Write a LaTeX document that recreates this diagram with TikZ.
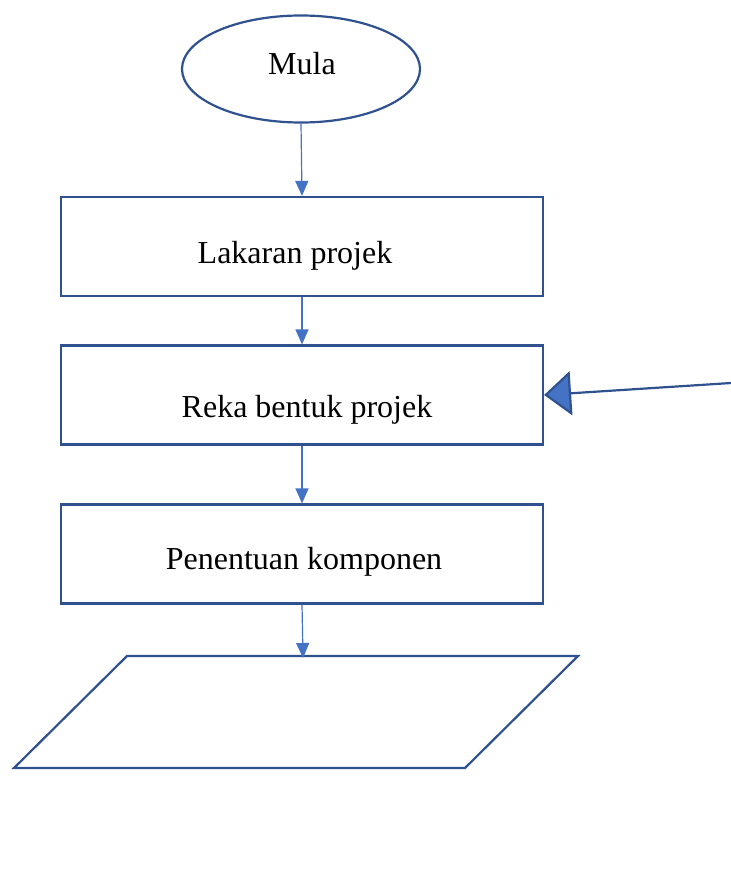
\documentclass[tikz,border=0pt]{standalone}
\usepackage{fontspec}
\setmainfont{Liberation Serif}
\usetikzlibrary{shapes.geometric,arrows.meta}
\definecolor{edgeblue}{HTML}{2F528F}
\definecolor{flowblue}{HTML}{4472C4}
\tikzset{
  stepbox/.style={draw=edgeblue, line width=2.2pt, minimum width=482pt, minimum height=99pt, inner sep=0pt},
  startend/.style={draw=edgeblue, line width=2.2pt, ellipse, minimum width=238pt, minimum height=107pt, inner sep=0pt},
  label/.style={font=\fontsize{32}{38}\selectfont, inner sep=0pt},
  flow/.style={draw=flowblue, line width=1.2pt, -{Triangle[length=15pt,width=13pt,fill=flowblue]}},
  feedback/.style={draw=edgeblue, line width=2.2pt, -{Triangle[length=27pt,width=44pt,fill=flowblue,color=edgeblue]}}
}
\begin{document}
\begin{tikzpicture}[x=1pt,y=-1pt]
\useasboundingbox (0,0) rectangle (731,873);

% start terminal
\node[startend] (m) at (301,69) {};
\node[label] (mt) at (302,64) {Mula};

% process boxes
\node[stepbox] (b1) at (302,246.5) {};
\node[label] (t1) at (295,256) {Lakaran projek};
\node[stepbox] (b2) at (302,395) {};
\node[label] (t2) at (307,410) {Reka bentuk projek};
\node[stepbox] (b3) at (302,554) {};
\node[label] (t3) at (304,562) {Penentuan komponen};

% input/output parallelogram
\draw[edgeblue, line width=2.2pt, line join=miter]
  (127,656) -- (578,656) -- (465,768) -- (14,768) -- cycle;
\coordinate (io) at (303,658);

% flow connectors
\draw[flow] (m.south) -- (b1.north);
\draw[flow] (b1.south) -- (b2.north);
\draw[flow] (b2.south) -- (b3.north);
\draw[flow] (b3.south) -- (io);

% incoming connector from the right
\coordinate (in) at (731,383);
\draw[feedback] (in) -- (b2.east);
\end{tikzpicture}
\end{document}
